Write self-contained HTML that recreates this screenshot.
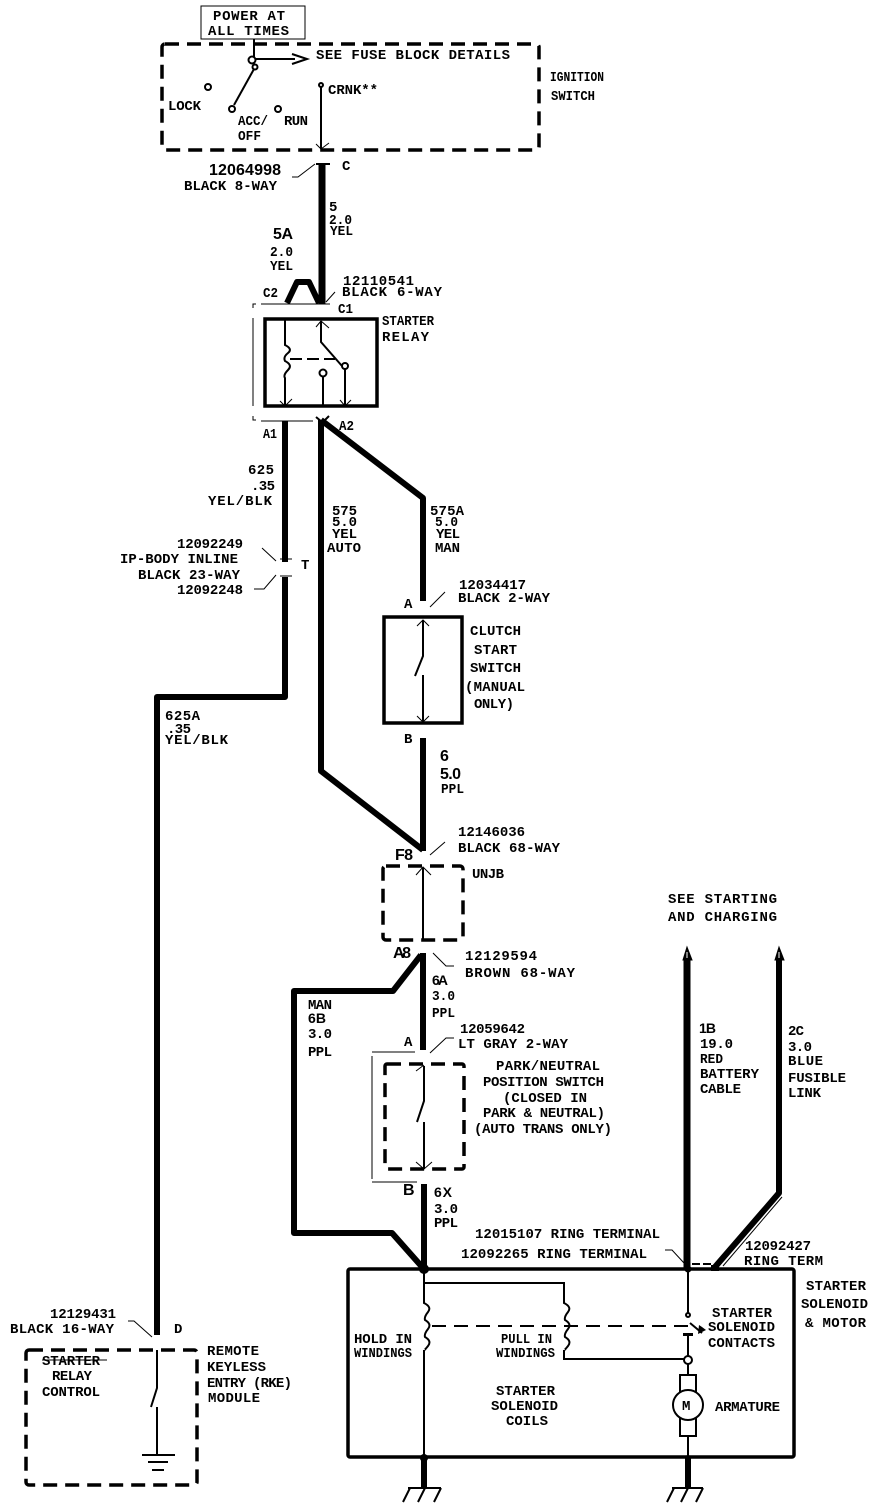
<!DOCTYPE html>
<html><head><meta charset="utf-8"><style>
html,body{margin:0;padding:0;background:#fff}
svg{display:block}
text{font-family:"Liberation Mono",monospace;font-weight:bold;font-size:14px;fill:#000}
text.b{font-family:"Liberation Sans",sans-serif;font-size:16px}
.t{stroke:#000;stroke-width:1;fill:none}
.m{stroke:#000;stroke-width:2;fill:none}
.w{stroke:#000;stroke-width:6;fill:none;stroke-linejoin:round}
.x{stroke:#000;stroke-width:7;fill:none}
.d{stroke:#000;stroke-width:3.5;fill:none;stroke-dasharray:14 8}
.s{stroke:#000;stroke-width:3.5;fill:#fff}
.c{stroke:#000;stroke-width:2;fill:#fff}
</style></head><body>
<svg xmlns="http://www.w3.org/2000/svg" width="880" height="1510" viewBox="0 0 880 1510">
<rect width="880" height="1510" fill="#fff"/>

<!-- ignition -->
<rect class="t" x="201" y="6" width="104" height="33"/>
<text x="213" y="20" textLength="72">POWER AT</text>
<text x="208" y="35" textLength="81">ALL TIMES</text>
<rect class="d" x="162" y="44" width="377" height="106" rx="3"/>
<path class="m" d="M254 39V57"/>
<path class="m" stroke-width="3" d="M255 59H295"/>
<path class="m" d="M292 54L307 59L292 64"/>
<circle class="c" cx="252" cy="60" r="3.5"/><circle class="c" cx="255" cy="67" r="2.5"/>
<path class="m" stroke-width="2.5" d="M254 69L234 105"/>
<circle class="c" cx="232" cy="109" r="3"/><circle class="c" cx="208" cy="87" r="3"/><circle class="c" cx="278" cy="109" r="3"/>
<text x="316" y="59" textLength="194">SEE FUSE BLOCK DETAILS</text>
<text x="550" y="81" textLength="54" lengthAdjust="spacingAndGlyphs">IGNITION</text>
<text x="551" y="100" textLength="44" lengthAdjust="spacingAndGlyphs">SWITCH</text>
<text x="168" y="110" textLength="33">LOCK</text>
<text x="238" y="125" textLength="30" lengthAdjust="spacingAndGlyphs">ACC/</text>
<text x="284" y="125" textLength="24">RUN</text>
<text x="238" y="140" textLength="23" lengthAdjust="spacingAndGlyphs">OFF</text>
<text x="328" y="94" textLength="50">CRNK**</text>
<circle class="c" cx="321" cy="85" r="2"/>
<path class="m" d="M321 87V149"/>
<path class="t" d="M316 144L321 149L329 143"/>

<!-- wire 5 -->
<path class="x" d="M322 164V304"/>
<path class="m" d="M316 164H330"/>
<path class="t" d="M292 177H298L315 164"/>
<text class="b" x="209" y="175" textLength="72">12064998</text>
<text x="184" y="190" textLength="93">BLACK 8-WAY</text>
<text x="342" y="170" textLength="6">C</text>
<text x="329" y="211" textLength="7">5</text>
<text x="329" y="224" textLength="23" lengthAdjust="spacingAndGlyphs">2.0</text>
<text x="330" y="235" textLength="23" lengthAdjust="spacingAndGlyphs">YEL</text>
<text class="b" x="273" y="239" textLength="20">5A</text>
<text x="270" y="256" textLength="23" lengthAdjust="spacingAndGlyphs">2.0</text>
<text x="270" y="270" textLength="23" lengthAdjust="spacingAndGlyphs">YEL</text>
<path class="w" d="M287 303L297 282H309L319 303"/>

<!-- relay -->
<path class="t" d="M256 304H253V308M253 318V406M253 416V420H256M261 304H330M261 421H313"/>
<rect class="s" x="265" y="319" width="112" height="87"/>
<text x="263" y="297" textLength="15" lengthAdjust="spacingAndGlyphs">C2</text>
<text x="338" y="313" textLength="15" lengthAdjust="spacingAndGlyphs">C1</text>
<text x="343" y="285" textLength="71">12110541</text>
<text x="342" y="296" textLength="100">BLACK 6-WAY</text>
<path class="t" d="M326 302L335 292"/>
<text x="382" y="325" textLength="52" lengthAdjust="spacingAndGlyphs">STARTER</text>
<text x="382" y="341" textLength="47">RELAY</text>
<path class="m" d="M285 320V345Q293 349 288 353T285 361Q293 365 288 370T285 378V406"/>
<path class="t" d="M280 401L285 406L292 399M316 327L321 321L329 328M340 400L345 406L351 400"/>
<path class="m" d="M321 321V342L342 366M345 369V406M323 376V406"/>
<path class="m" stroke-width="3" stroke-dasharray="12 5" d="M290 359H335"/>
<circle class="c" cx="345" cy="366" r="3"/><circle class="c" cx="323" cy="373" r="3.5"/>
<text x="263" y="438" textLength="14" lengthAdjust="spacingAndGlyphs">A1</text>
<text x="339" y="430" textLength="15" lengthAdjust="spacingAndGlyphs">A2</text>

<!-- wire 625 -->
<path class="w" d="M285 421V562"/>
<path class="w" d="M285 577V697H157V1335"/>
<text x="248" y="474" textLength="26">625</text>
<text x="251" y="490" textLength="24">.35</text>
<text x="208" y="505" textLength="64">YEL/BLK</text>
<text x="177" y="548" textLength="66">12092249</text>
<text x="120" y="563" textLength="118">IP-BODY INLINE</text>
<text x="138" y="579" textLength="102">BLACK 23-WAY</text>
<text x="177" y="594" textLength="66">12092248</text>
<text x="301" y="569" textLength="5">T</text>
<path class="t" d="M262 548L276 561M280 559H292M276 575L264 589H254M280 576H292"/>
<text x="165" y="720" textLength="35">625A</text>
<text x="167" y="733" textLength="24">.35</text>
<text x="165" y="744" textLength="63">YEL/BLK</text>

<!-- wire 575 -->
<path class="w" d="M321 420V771L423 850"/>
<path class="w" stroke-width="7" d="M321 420L423 498V601"/>
<path class="m" d="M316 417L322 422M329 416L322 423"/>
<text x="332" y="515" textLength="25">575</text>
<text x="332" y="526" textLength="25">5.0</text>
<text x="332" y="538" textLength="25">YEL</text>
<text x="327" y="552" textLength="34">AUTO</text>
<text x="430" y="515" textLength="34">575A</text>
<text x="435" y="526" textLength="23" lengthAdjust="spacingAndGlyphs">5.0</text>
<text x="436" y="538" textLength="24">YEL</text>
<text x="435" y="552" textLength="25">MAN</text>
<text x="404" y="608" textLength="6">A</text>
<text x="459" y="589" textLength="67">12034417</text>
<text x="458" y="602" textLength="92">BLACK 2-WAY</text>
<path class="t" d="M430 607L445 592"/>

<!-- clutch -->
<rect class="s" x="384" y="617" width="78" height="106"/>
<path class="m" d="M423 620V656L415 676M423 675V722"/>
<path class="t" d="M417 626L423 620L429 626M417 716L423 722L429 716"/>
<text x="470" y="635" textLength="51">CLUTCH</text>
<text x="474" y="654" textLength="43">START</text>
<text x="470" y="672" textLength="51">SWITCH</text>
<text x="465" y="691" textLength="60">(MANUAL</text>
<text x="474" y="708" textLength="40">ONLY)</text>
<text x="404" y="743" textLength="6">B</text>
<path class="w" d="M423 738V851"/>
<text class="b" x="440" y="761" textLength="8">6</text>
<text class="b" x="440" y="779" textLength="21">5.0</text>
<text x="441" y="793" textLength="23" lengthAdjust="spacingAndGlyphs">PPL</text>

<!-- UMJB -->
<text x="458" y="836" textLength="67">12146036</text>
<text x="458" y="852" textLength="102">BLACK 68-WAY</text>
<path class="t" d="M430 855L445 842"/>
<text class="b" x="395" y="860" textLength="18">F8</text>
<rect class="d" x="383" y="866" width="80" height="74" rx="3"/>
<path class="m" d="M423 868V940"/>
<path class="t" d="M416 875L423 867L431 875"/>
<text x="472" y="878" textLength="32">UNJB</text>
<text class="b" x="393" y="958" textLength="18">A8</text>

<!-- wire 6A/6B -->
<path class="w" d="M423 953V1050"/>
<path class="w" d="M421 955L393 991H294V1233H392L423 1268"/>
<path class="t" d="M433 953L446 966H454"/>
<text x="465" y="960" textLength="72">12129594</text>
<text x="465" y="977" textLength="110">BROWN 68-WAY</text>
<text class="b" x="432" y="985" textLength="16" style="font-size:14px">6A</text>
<text x="432" y="1000" textLength="23" lengthAdjust="spacingAndGlyphs">3.0</text>
<text x="432" y="1017" textLength="23" lengthAdjust="spacingAndGlyphs">PPL</text>
<text x="308" y="1009" textLength="24">MAN</text>
<text class="b" x="308" y="1023" textLength="18" style="font-size:14px">6B</text>
<text x="308" y="1038" textLength="24">3.0</text>
<text x="308" y="1056" textLength="24">PPL</text>
<text x="460" y="1033" textLength="65">12059642</text>
<text x="458" y="1048" textLength="110">LT GRAY 2-WAY</text>
<path class="t" d="M430 1053L446 1038H454"/>
<text x="404" y="1046" textLength="5">A</text>

<!-- park/neutral -->
<path class="t" d="M372 1056V1179M372 1052H415M372 1182H417"/>
<rect class="d" x="385" y="1064" width="79" height="105" rx="2" stroke-width="3"/>
<path class="m" d="M424 1066V1101L417 1122M424 1122V1169"/>
<path class="t" d="M416 1071L424 1065M416 1162L424 1169L432 1162"/>
<text x="496" y="1070" textLength="104">PARK/NEUTRAL</text>
<text x="483" y="1086" textLength="121">POSITION SWITCH</text>
<text x="503" y="1102" textLength="84">(CLOSED IN</text>
<text x="483" y="1117" textLength="122">PARK &amp; NEUTRAL)</text>
<text x="474" y="1133" textLength="138">(AUTO TRANS ONLY)</text>
<text class="b" x="403" y="1195" textLength="11">B</text>
<text class="b" x="434" y="1197" textLength="18" style="font-size:14px">6X</text>
<text x="434" y="1213" textLength="24">3.0</text>
<text x="434" y="1227" textLength="24">PPL</text>
<path class="w" d="M424 1184V1269"/>

<!-- ring terminals -->
<text x="475" y="1238" textLength="185">12015107 RING TERMINAL</text>
<text x="461" y="1258" textLength="186">12092265 RING TERMINAL</text>
<path class="t" d="M665 1250H672L684 1263"/>
<text x="668" y="903" textLength="109">SEE STARTING</text>
<text x="668" y="921" textLength="109">AND CHARGING</text>
<path class="x" d="M687 960V1269"/>
<path d="M687 947L692 960H683Z" fill="#000" stroke="#000" stroke-width="1"/>
<path d="M687 952V958" stroke="#fff" stroke-width="1"/>
<path class="w" d="M779 960V1193L715 1267"/>
<path d="M779 947L784 960H775Z" fill="#000" stroke="#000" stroke-width="1"/>
<path d="M779 952V958" stroke="#fff" stroke-width="1"/>
<path class="m" d="M692 1264H712" stroke-width="3" stroke-dasharray="8 3"/>
<rect x="711" y="1265" width="8" height="6" fill="#000"/>
<path class="t" d="M723 1266L782 1197"/>
<text class="b" x="699" y="1033" textLength="17" style="font-size:14px">1B</text>
<text x="700" y="1048" textLength="33">19.0</text>
<text x="700" y="1063" textLength="23" lengthAdjust="spacingAndGlyphs">RED</text>
<text x="700" y="1078" textLength="59">BATTERY</text>
<text x="700" y="1093" textLength="41">CABLE</text>
<text x="788" y="1035" textLength="16">2C</text>
<text x="788" y="1051" textLength="24">3.0</text>
<text x="788" y="1065" textLength="35">BLUE</text>
<text x="788" y="1082" textLength="58">FUSIBLE</text>
<text x="788" y="1097" textLength="33">LINK</text>
<text x="745" y="1250" textLength="66">12092427</text>
<text x="744" y="1265" textLength="79">RING TERM</text>
<text x="806" y="1290" textLength="60">STARTER</text>
<text x="801" y="1308" textLength="67">SOLENOID</text>
<text x="805" y="1327" textLength="61">&amp; MOTOR</text>

<!-- solenoid -->
<rect class="s" x="348" y="1269" width="446" height="188" rx="2" style="fill:none"/>
<circle cx="424" cy="1269" r="5" fill="#000"/>
<circle cx="688" cy="1269" r="3.5" fill="#000"/>
<path class="m" d="M424 1270V1303Q432 1307 428 1312T425 1320Q432 1324 428 1329T425 1337Q432 1341 428 1346T424 1350V1456"/>
<path class="m" d="M424 1283H564V1303Q572 1307 568 1312T565 1320Q572 1324 568 1329T565 1337Q572 1341 568 1346T564 1350V1359H684"/>
<path class="m" stroke-width="3" stroke-dasharray="14 8" d="M432 1326H688"/>
<path class="m" d="M688 1270V1313M688 1336V1375M688 1436V1456M690 1323L702 1333"/>
<path d="M698 1334L706 1330L702 1327L699 1325Z" fill="#000"/>
<circle class="c" cx="688" cy="1315" r="2"/>
<rect x="683" y="1333" width="10" height="3" fill="#000"/>
<circle class="c" stroke-width="2.5" cx="688" cy="1360" r="4"/>
<rect class="c" x="680" y="1375" width="16" height="61" stroke-width="2.5"/>
<circle class="c" stroke-width="2.5" cx="688" cy="1405" r="15"/>
<text x="682" y="1410" textLength="12">M</text>
<text x="354" y="1343" textLength="58">HOLD IN</text>
<text x="354" y="1357" textLength="58" lengthAdjust="spacingAndGlyphs">WINDINGS</text>
<text x="501" y="1343" textLength="51" lengthAdjust="spacingAndGlyphs">PULL IN</text>
<text x="496" y="1357" textLength="59" lengthAdjust="spacingAndGlyphs">WINDINGS</text>
<text x="496" y="1395" textLength="59">STARTER</text>
<text x="491" y="1410" textLength="67">SOLENOID</text>
<text x="506" y="1425" textLength="42">COILS</text>
<text x="715" y="1411" textLength="65">ARMATURE</text>
<text x="712" y="1317" textLength="60">STARTER</text>
<text x="708" y="1331" textLength="67">SOLENOID</text>
<text x="708" y="1347" textLength="67">CONTACTS</text>

<!-- grounds -->
<circle cx="424" cy="1458" r="4" fill="#000"/><circle cx="688" cy="1458" r="3" fill="#000"/>
<path class="w" d="M424 1456V1488M688 1456V1488"/>
<path class="m" d="M408 1488H441M410 1488L403 1502M425 1488L418 1502M441 1488L434 1502"/>
<path class="m" d="M672 1488H703M674 1488L667 1502M688 1488L681 1502M703 1488L696 1502"/>

<!-- RKE -->
<text x="50" y="1318" textLength="66">12129431</text>
<text x="10" y="1333" textLength="104">BLACK 16-WAY</text>
<text x="174" y="1333" textLength="6">D</text>
<path class="t" d="M128 1321H134L152 1337"/>
<rect class="d" x="26" y="1350" width="171" height="135" rx="3"/>
<path class="m" stroke-width="3" d="M157 1350V1388L151 1407M157 1407V1455"/>
<path class="m" d="M142 1455H175M148 1462H168M152 1470H164"/>
<text x="42" y="1365" textLength="58">STARTER</text>
<path class="t" d="M42 1360H107"/>
<text x="52" y="1380" textLength="40">RELAY</text>
<text x="42" y="1396" textLength="58">CONTROL</text>
<text x="207" y="1355" textLength="52">REMOTE</text>
<text x="207" y="1371" textLength="59">KEYLESS</text>
<text x="207" y="1387" textLength="85">ENTRY (RKE)</text>
<text x="208" y="1402" textLength="52">MODULE</text>
</svg>
</body></html>
